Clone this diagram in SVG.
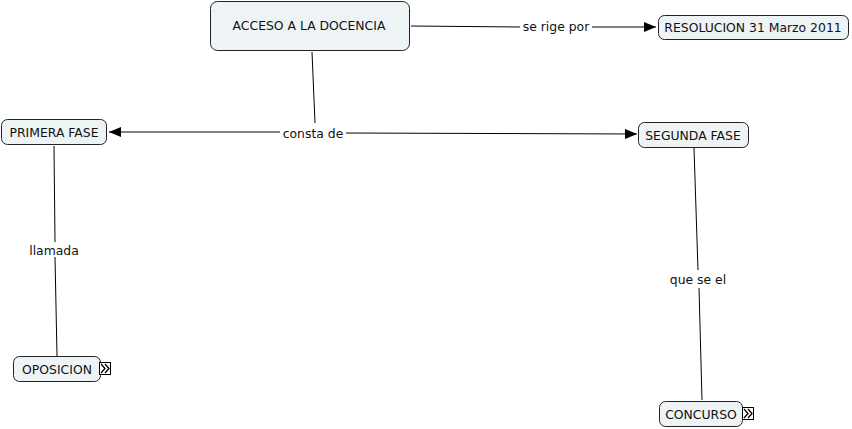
<svg xmlns="http://www.w3.org/2000/svg" width="852" height="429" viewBox="0 0 852 429">
<defs>
<style>
.node rect.box{fill:#eef3f6;stroke:#222;stroke-width:1}
text{font-family:"DejaVu Sans",Verdana,sans-serif;font-size:12.4px;fill:#111;text-anchor:middle;dominant-baseline:central}
.conn line,.conn path{stroke:#000;stroke-width:1;fill:none}
.ico rect{fill:#fff;stroke:#000;stroke-width:1}
.ico path{fill:none;stroke:#000;stroke-width:1.3}
</style>
<marker id="arr" viewBox="0 0 12 10" refX="12" refY="5" markerWidth="12" markerHeight="10" markerUnits="userSpaceOnUse" orient="auto">
<path d="M0,0 L12,5 L0,10 z" fill="#000"/>
</marker>
</defs>
<rect width="852" height="429" fill="#fff"/>
<g id="connectors" class="conn">
<line x1="411" y1="26" x2="520" y2="27"/>
<line x1="592" y1="27" x2="656" y2="27" marker-end="url(#arr)"/>
<line x1="312" y1="52" x2="315" y2="123"/>
<line x1="280" y1="132" x2="109" y2="132" marker-end="url(#arr)"/>
<line x1="346" y1="133" x2="637" y2="134" marker-end="url(#arr)"/>
<line x1="54" y1="146" x2="55" y2="242"/>
<line x1="55" y1="257" x2="57" y2="356"/>
<line x1="694" y1="148" x2="698" y2="270"/>
<line x1="699" y1="288" x2="702" y2="400"/>
<text x="556" y="26">se rige por</text>
<text x="313" y="133">consta de</text>
<text x="54" y="250">llamada</text>
<text x="698" y="279">que se el</text>
</g>
<g id="n-acceso" class="node">
<rect class="box" x="210.5" y="1.5" width="199" height="49" rx="7"/>
<text x="309" y="25">ACCESO A LA DOCENCIA</text>
</g>
<g id="n-resolucion" class="node">
<rect class="box" x="658.5" y="15.5" width="190" height="24" rx="6"/>
<text x="753" y="27">RESOLUCION 31 Marzo 2011</text>
</g>
<g id="n-primera" class="node">
<rect class="box" x="1.5" y="119.5" width="105" height="25" rx="6"/>
<text x="54" y="132">PRIMERA FASE</text>
</g>
<g id="n-segunda" class="node">
<rect class="box" x="638.5" y="122.5" width="110" height="25" rx="6"/>
<text x="693" y="135">SEGUNDA FASE</text>
</g>
<g id="n-oposicion" class="node">
<rect class="box" x="13.5" y="356.5" width="87" height="25" rx="6"/>
<text x="57" y="369">OPOSICION</text>
<g class="ico"><rect x="99.5" y="362.5" width="11" height="12"/><path d="M101,364 l4,4.5 l-4,4.5 M105,364 l4,4.5 l-4,4.5"/></g>
</g>
<g id="n-concurso" class="node">
<rect class="box" x="659.5" y="401.5" width="83" height="25" rx="6"/>
<text x="701" y="414">CONCURSO</text>
<g class="ico"><rect x="742.5" y="407.5" width="11" height="12"/><path d="M744,409 l4,4.5 l-4,4.5 M748,409 l4,4.5 l-4,4.5"/></g>
</g>
</svg>
